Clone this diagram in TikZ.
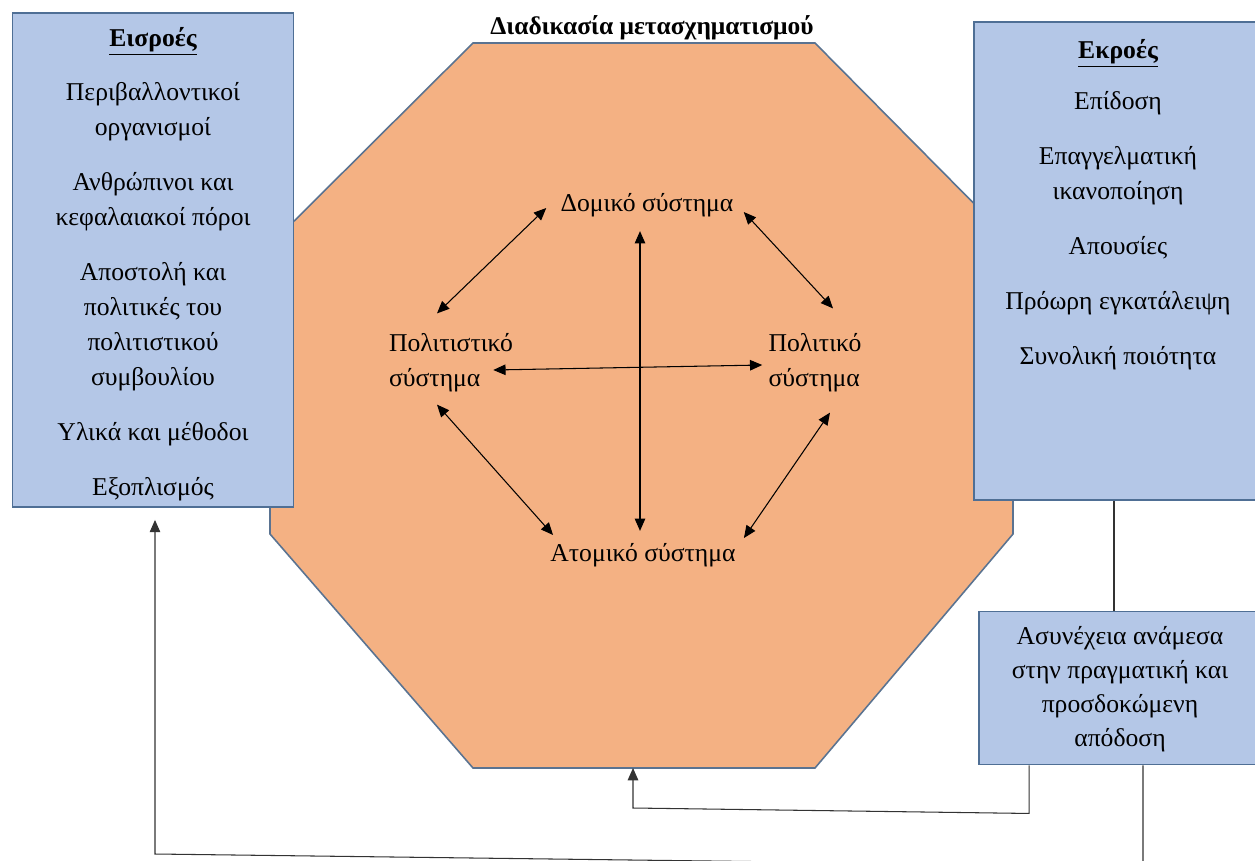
\documentclass[tikz,border=0pt]{standalone}
\usepackage{fontspec}
\setmainfont{Liberation Serif}
\usetikzlibrary{arrows.meta, calc}
\definecolor{boxblue}{HTML}{B4C7E7}
\definecolor{boxline}{HTML}{4F6F95}
\definecolor{octfill}{HTML}{F4B183}
\definecolor{octline}{HTML}{5A7391}

\begin{document}
\begin{tikzpicture}[x=0.02cm,y=-0.02cm,
  font=\fontsize{14.6}{19.9}\selectfont,
  panel/.style={draw=boxline,line width=1.1pt,fill=boxblue,align=center,inner sep=0pt},
  sysnode/.style={inner sep=0pt,align=left},
  twoway/.style={{Triangle[length=7pt,width=6pt]}-{Triangle[length=7pt,width=6pt]},line width=0.6pt},
  feed/.style={draw=black!80,line width=0.6pt},
  feedarrow/.style={feed,-{Triangle[length=7pt,width=6pt]}}]
  \useasboundingbox (0,0) rectangle (1255,860);
  \draw[octline,line width=0.9pt,fill=octfill] (473,43) -- (815,43) -- (1013,243) -- (1013,534)
    -- (815,768) -- (473,768) -- (270,534) -- (270,245) -- cycle;
  \coordinate (octbot) at (633,768);
  \node[font=\fontsize{14.5}{16}\selectfont\bfseries] (title) at (652,28) {Διαδικασία μετασχηματισμού};

  \node[panel,minimum width=5.62cm,minimum height=9.88cm] (inputs) at (153,260) {};
  \node[align=center,inner sep=0pt] (inlist) at (153,264)
    {\textbf{\underline{Εισροές}}\\[0.38cm]
     Περιβαλλοντικοί\\ οργανισμοί\\[0.4cm]
     Ανθρώπινοι και\\ κεφαλαιακοί πόροι\\[0.4cm]
     Αποστολή και\\ πολιτικές του\\ πολιτιστικού\\ συμβουλίου\\[0.4cm]
     Υλικά και μέθοδοι\\[0.4cm]
     Εξοπλισμός};
  \node[panel,minimum width=5.76cm,minimum height=9.56cm] (outputs) at (1118,261) {};
  \node[align=center,inner sep=0pt,anchor=north] (outlist) at ($(outputs.north)+(0,18)$)
    {\textbf{\underline{Εκροές}}\\[0.32cm]
     Επίδοση\\[0.4cm]
     Επαγγελματική\\ ικανοποίηση\\[0.4cm]
     Απουσίες\\[0.4cm]
     Πρόωρη εγκατάλειψη\\[0.4cm]
     Συνολική ποιότητα};
  \node[panel,minimum width=5.66cm,minimum height=3.06cm,font=\fontsize{14.6}{19.3}\selectfont] (gap) at (1120,688)
    {\rule{0pt}{12pt}Ασυνέχεια ανάμεσα\\ στην πραγματική και\\ προσδοκώμενη\\ απόδοση};

  \node[sysnode] (dom) at (647,205) {Δομικό σύστημα};
  \node[sysnode] (cult) at (451,363) {Πολιτιστικό\\ σύστημα};
  \node[sysnode] (pol) at (815,363) {Πολιτικό\\ σύστημα};
  \node[sysnode] (atom) at (643,555) {Ατομικό σύστημα};

  \draw[twoway] ($(dom.west)+(-14,3)$) -- ($(cult.north)+(-14,-20)$);
  \draw[twoway] ($(dom.east)+(10,7)$) -- ($(pol.north)+(18,-25)$);
  \draw[twoway] ($(atom.north |- dom.south)+(-3,14)$) -- ($(atom.north)+(-3,-12)$);
  \draw[twoway] ($(cult.east)+(-20,7)$) -- ($(pol.west)+(-6,2)$);
  \draw[twoway] ($(cult.south)+(-14,12)$) -- ($(atom.west)+(3,-20)$);
  \draw[twoway] ($(pol.south)+(15,20)$) -- ($(atom.east)+(8,-17)$);

  \draw[feed] (outputs.south -| 1114,0) -- (gap.north -| 1114,0);
  \coordinate (turn1) at (633,808);
  \coordinate (turn2) at (155,854);
  \draw[feedarrow] ([xshift=-1.82cm]gap.south) -- ++(0,48) -- (turn1) -- (octbot);
  \draw[feedarrow] ([xshift=0.46cm]gap.south) -- ++(0,101) -- (turn2) -- ($(inputs.south -| turn2)+(0,12)$);
\end{tikzpicture}
\end{document}
